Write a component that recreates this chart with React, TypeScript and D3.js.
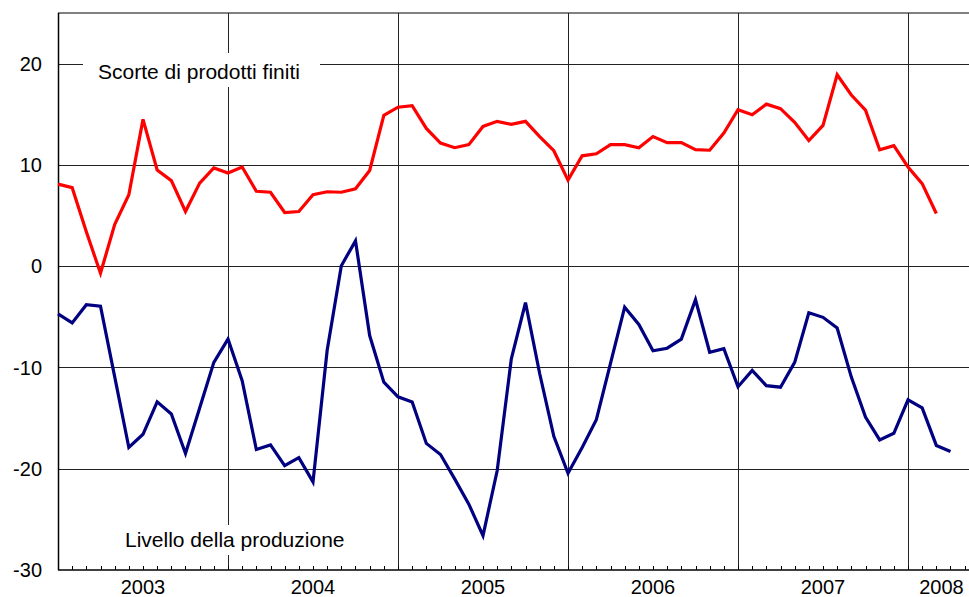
import React from "react";
import * as d3 from "d3";

const years = ["2003", "2004", "2005", "2006", "2007", "2008"];
const yTicks = [20, 10, 0, -10, -20, -30];

// Monthly values starting January 2003
const scorte = [
  8.1, 7.75, 3.4, -0.7, 4.1, 7.05, 14.5, 9.5, 8.45, 5.4, 8.2, 9.7,
  9.2, 9.8, 7.4, 7.3, 5.3, 5.4, 7.05, 7.35, 7.3, 7.65, 9.45, 14.9,
  15.7, 15.85, 13.6, 12.15, 11.7, 12.0, 13.8, 14.3, 14.0, 14.3, 12.8, 11.4,
  8.5, 10.9, 11.1, 12.0, 12.0, 11.7, 12.8, 12.2, 12.2, 11.5, 11.45, 13.15,
  15.45, 14.95, 16.0, 15.55, 14.2, 12.4, 13.9, 18.9, 16.9, 15.4, 11.5, 11.9,
  9.8, 8.15, 5.2,
];

const produzione = [
  -4.7, -5.6, -3.8, -3.95, -10.9, -17.9, -16.6, -13.4, -14.6, -18.5, -14.0, -9.5,
  -7.2, -11.3, -18.1, -17.65, -19.7, -18.9, -21.3, -8.3, 0.05, 2.5, -6.85, -11.45,
  -12.9, -13.4, -17.5, -18.6, -21.0, -23.5, -26.6, -20.2, -9.15, -3.6, -10.6, -16.8,
  -20.45, -17.9, -15.15, -9.6, -4.05, -5.75, -8.35, -8.1, -7.2, -3.3, -8.5, -8.15,
  -11.9, -10.3, -11.8, -11.95, -9.5, -4.6, -5.05, -6.1, -10.95, -14.9, -17.15, -16.5,
  -13.2, -14.0, -17.7, -18.3,
];

const W = 969;
const H = 597;
const left = 58;
const right = 969;
const top = 13;
const bottom = 570;
const monthW = 170 / 12;
const xMax = (right - left) / monthW;

export default function App() {
  const x = d3.scaleLinear().domain([0, xMax]).range([left, right]);
  const y = d3.scaleLinear().domain([-30, 25]).range([bottom, top]);

  const line = d3
    .line<number>()
    .x((_, i) => x(i))
    .y((d) => y(d));

  const months = d3.range(1, Math.floor(xMax) + 1);
  const yearStarts = years.map((_, i) => i * 12).filter((m) => m > 0);

  const font = "'Liberation Sans', Arial, sans-serif";

  return (
    <svg
      width={W}
      height={H}
      style={{ position: "absolute", left: 0, top: 0, background: "#fff" }}
      fontFamily={font}
    >
      {/* top border */}
      <line x1={left} x2={right} y1={y(25)} y2={y(25)} stroke="#808080" strokeWidth={2} />
      {/* horizontal gridlines */}
      {yTicks
        .filter((t) => t > -30)
        .map((t) => (
          <line key={t} x1={left} x2={right} y1={Math.round(y(t)) + 0.5} y2={Math.round(y(t)) + 0.5} stroke="#222" strokeWidth={1} />
        ))}
      {/* vertical year gridlines */}
      {yearStarts.map((m) => (
        <line key={m} x1={Math.round(x(m)) + 0.5} x2={Math.round(x(m)) + 0.5} y1={top} y2={bottom} stroke="#222" strokeWidth={1} />
      ))}
      {/* month ticks */}
      {months.map((m) => (
        <line key={m} x1={Math.round(x(m)) + 0.5} x2={Math.round(x(m)) + 0.5} y1={bottom} y2={bottom - 4} stroke="#000" strokeWidth={1} />
      ))}
      {/* axes */}
      <line x1={left + 0.5} x2={left + 0.5} y1={top} y2={bottom} stroke="#000" strokeWidth={1.5} />
      <line x1={left} x2={right} y1={bottom} y2={bottom} stroke="#000" strokeWidth={1.5} />

      {/* label boxes */}
      <rect x={83} y={53} width={237} height={34} fill="#fff" />
      <text x={98} y={79} fontSize={21} fill="#000">
        Scorte di prodotti finiti
      </text>
      <rect x={110} y={525} width={252} height={30} fill="#fff" />
      <text x={125} y={547} fontSize={21} fill="#000">
        Livello della produzione
      </text>

      {/* series */}
      <path d={line(scorte) || ""} fill="none" stroke="#ff0000" strokeWidth={3.2} strokeLinejoin="miter" />
      <path d={line(produzione) || ""} fill="none" stroke="#000080" strokeWidth={3.2} strokeLinejoin="miter" />

      {/* y tick labels */}
      {yTicks.map((t) => (
        <text key={t} x={42} y={y(t)} dy="0.36em" textAnchor="end" fontSize={20} fill="#000">
          {t}
        </text>
      ))}
      {/* year labels */}
      {years.map((yr, i) => {
        const start = i * 12;
        const end = Math.min(start + 12, xMax);
        const cx = (x(start) + x(end)) / 2 + (i === years.length - 1 ? 3 : 0);
        return (
          <text key={yr} x={cx} y={594} textAnchor="middle" fontSize={20} fill="#000">
            {yr}
          </text>
        );
      })}
    </svg>
  );
}
